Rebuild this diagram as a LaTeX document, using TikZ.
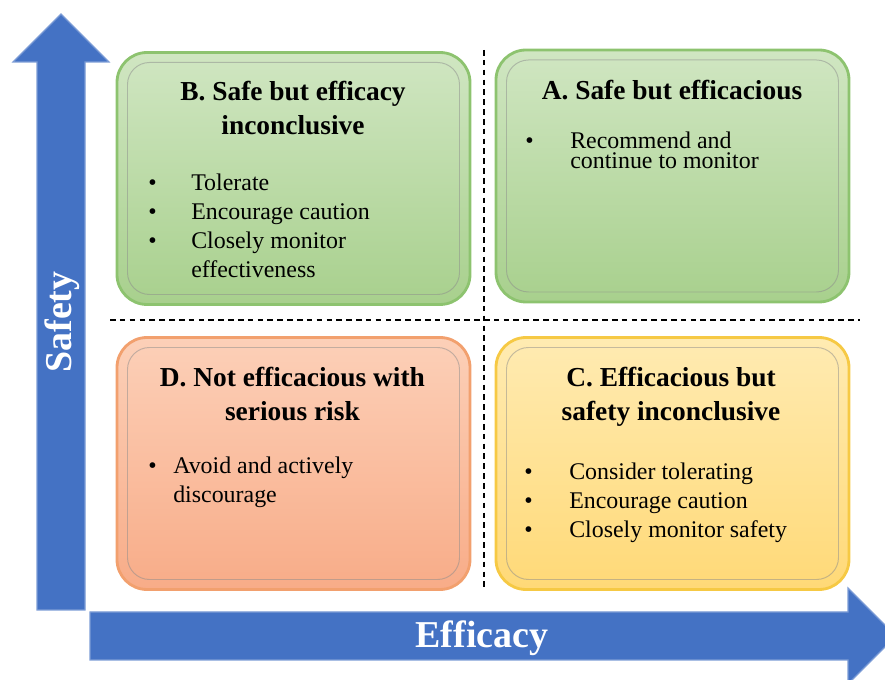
\documentclass[tikz,border=0pt]{standalone}
\usepackage{fontspec}
\setmainfont{Liberation Serif}
\usetikzlibrary{positioning}
\definecolor{arrowblue}{HTML}{4472C4}
\definecolor{greentop}{HTML}{D0E6C2}
\definecolor{greenbot}{HTML}{A8D08D}
\definecolor{greenline}{HTML}{8DC36F}
\definecolor{orangetop}{HTML}{FCD0B8}
\definecolor{orangebot}{HTML}{F8AC88}
\definecolor{orangeline}{HTML}{F2A06E}
\definecolor{yellowtop}{HTML}{FFEBB2}
\definecolor{yellowbot}{HTML}{FFD977}
\definecolor{yellowline}{HTML}{F6C944}
\tikzset{
  quad/.style={draw, line width=2pt, rounded corners=0.75cm,
    minimum width=8.825cm, minimum height=6.3cm},
  quadin/.style={draw=black!45, draw opacity=0.5, line width=0.7pt,
    rounded corners=0.55cm, minimum width=8.3cm, minimum height=5.8cm},
  title/.style={inner sep=0pt, anchor=north,
    font=\fontsize{19.5}{24}\selectfont\bfseries},
  items/.style={inner sep=0pt, anchor=north west,
    font=\fontsize{17}{20.6}\selectfont},
  axis/.style={fill=arrowblue, draw=arrowblue!70!white, line width=0.8pt},
  axislabel/.style={text=white, font=\fontsize{27}{30}\selectfont\bfseries},
  divider/.style={dash pattern=on 4pt off 3pt, line width=0.9pt}
}
\begin{document}
\begin{tikzpicture}
\useasboundingbox (0,0) rectangle (22.125,17);
\clip (0,0) rectangle (22.125,17);

%axes
\draw[axis] (0.925,1.75) -- (0.925,15.45) -- (0.325,15.45) -- (1.525,16.65)
    -- (2.725,15.45) -- (2.125,15.45) -- (2.125,1.75) -- cycle;
\draw[axis] (2.25,0.5) -- (21.2,0.5) -- (21.2,-0.1) -- (22.4,1.1)
    -- (21.2,2.3) -- (21.2,1.7) -- (2.25,1.7) -- cycle;
\node[axislabel, rotate=90](safety) at (1.55,8.95){Safety};
\node[axislabel](efficacy) at (12.05,1.05){Efficacy};

%dividers
\draw[divider] (12.1,15.75) -- (12.1,2.25);
\draw[divider] (2.75,9.0) -- (21.5,9.0);

%quadrants
\node[quad, draw=greenline, top color=greentop, bottom color=greenbot]
    (boxB) at (7.3375,12.5375){};
\node[quadin](boxBin) at (boxB.center){};
\node[quad, draw=greenline, top color=greentop, bottom color=greenbot]
    (boxA) at (16.8125,12.6){};
\node[quadin](boxAin) at (boxA.center){};
\node[quad, draw=orangeline, top color=orangetop, bottom color=orangebot]
    (boxD) at (7.3375,5.4125){};
\node[quadin](boxDin) at (boxD.center){};
\node[quad, draw=yellowline, top color=yellowtop, bottom color=yellowbot]
    (boxC) at (16.8125,5.4125){};
\node[quadin](boxCin) at (boxC.center){};

%texts
\node[title](titleB) at (7.325,15.075){\begin{tabular}{@{}c@{}}
    B. Safe but efficacy\\inconclusive\end{tabular}};
\node[items](listB) at (3.7,12.75){\begin{tabular}{@{}p{1.075cm}@{}l@{}}
    \textbullet & Tolerate\\
    \textbullet & Encourage caution\\
    \textbullet & Closely monitor\\
     & effectiveness\end{tabular}};

\node[title](titleA) at (16.8,15.1){\begin{tabular}{@{}c@{}}
    A. Safe but efficacious\end{tabular}};
\node[items, font=\fontsize{17}{10}\selectfont](listA) at (13.125,13.71){
    \begin{tabular}{@{}p{1.125cm}@{}l@{}}
    \textbullet & Recommend and\\
     & continue to monitor\end{tabular}};

\node[title](titleD) at (7.31,7.925){\begin{tabular}{@{}c@{}}
    D. Not efficacious with\\serious risk\end{tabular}};
\node[items](listD) at (3.7,5.675){\begin{tabular}{@{}p{0.625cm}@{}l@{}}
    \textbullet & Avoid and actively\\
     & discourage\end{tabular}};

\node[title](titleC) at (16.775,7.925){\begin{tabular}{@{}c@{}}
    C. Efficacious but\\safety inconclusive\end{tabular}};
\node[items](listC) at (13.1,5.525){\begin{tabular}{@{}p{1.125cm}@{}l@{}}
    \textbullet & Consider tolerating\\
    \textbullet & Encourage caution\\
    \textbullet & Closely monitor safety\end{tabular}};
\end{tikzpicture}
\end{document}
